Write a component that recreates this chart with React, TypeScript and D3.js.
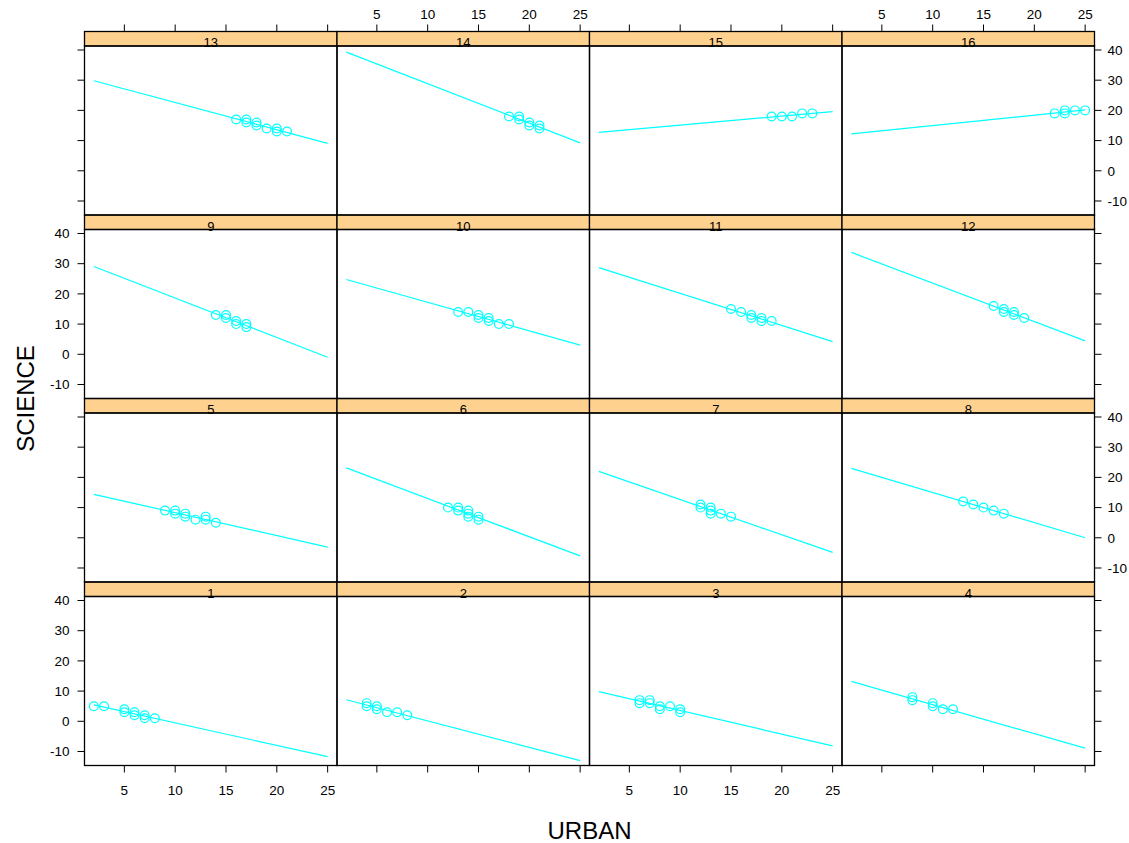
import React from 'react';
import * as d3 from 'd3';

// panel labels 1..16 (lattice order: bottom-left first, left to right, bottom to top)
const panelLabels = ['1', '2', '3', '4', '5', '6', '7', '8', '9', '10', '11', '12', '13', '14', '15', '16'];

// URBAN values for each panel
const urbanByPanel = [
  [2, 3, 5, 5, 6, 6, 7, 7, 8],
  [4, 4, 5, 5, 6, 7, 8],
  [6, 6, 7, 7, 8, 8, 9, 10, 10],
  [8, 8, 10, 10, 11, 12],
  [9, 10, 10, 11, 11, 12, 13, 13, 14],
  [12, 13, 13, 14, 14, 14, 15, 15],
  [12, 12, 13, 13, 13, 14, 15],
  [13, 14, 15, 16, 17],
  [14, 15, 15, 16, 16, 17, 17],
  [13, 14, 15, 15, 16, 16, 17, 18],
  [15, 16, 17, 17, 18, 18, 19],
  [16, 17, 17, 18, 18, 19],
  [16, 17, 17, 18, 18, 19, 20, 20, 21],
  [18, 19, 19, 20, 20, 21, 21],
  [19, 20, 21, 22, 23],
  [22, 23, 23, 24, 25],
];

// SCIENCE values for each panel
const scienceByPanel = [
  [5, 5, 4, 3, 3, 2, 2, 1, 1],
  [6, 5, 5, 4, 3, 3, 2],
  [7, 6, 7, 6, 5, 4, 5, 4, 3],
  [8, 7, 6, 5, 4, 4],
  [9, 9, 8, 8, 7, 6, 7, 6, 5],
  [10, 10, 9, 9, 8, 7, 7, 6],
  [11, 10, 10, 9, 8, 8, 7],
  [12, 11, 10, 9, 8],
  [13, 13, 12, 11, 10, 10, 9],
  [14, 14, 13, 12, 12, 11, 10, 10],
  [15, 14, 13, 12, 12, 11, 11],
  [16, 15, 14, 14, 13, 12],
  [17, 17, 16, 16, 15, 14, 14, 13, 13],
  [18, 18, 17, 16, 15, 15, 14],
  [18, 18, 18, 19, 19],
  [19, 20, 19, 20, 20],
];

const xTicks = [5, 10, 15, 20, 25];
const yTicks = [-10, 0, 10, 20, 30, 40];
const xLimits = [1.08, 25.92];
const yLimits = [-14.64, 41.32];

const W = 1129;
const H = 843;
const left = 84.5;
const right = 1094.5;
const top = 31.5;
const bottom = 765.5;
const nCol = 4;
const nRow = 4;
const colW = (right - left) / nCol;
const rowH = (bottom - top) / nRow;
const stripH = 14.5;
const tickLen = 7;

const STRIP = '#ffd18f';
const CYAN = '#00ffff';
const FONT = '"Liberation Sans", Arial, Helvetica, sans-serif';

// least squares fit, like lattice's type = "r"
function fit(xs, ys) {
  const mx = d3.mean(xs);
  const my = d3.mean(ys);
  const sxy = d3.sum(xs, (x, i) => (x - mx) * (ys[i] - my));
  const sxx = d3.sum(xs, x => (x - mx) * (x - mx));
  const b = sxy / sxx;
  return { a: my - b * mx, b };
}

export default function App() {
  const xRange = d3.extent(urbanByPanel.flat());

  const panels = panelLabels.map((label, k) => {
    const col = k % nCol;
    const rowFromTop = nRow - 1 - Math.floor(k / nCol);
    const x0 = left + col * colW;
    const stripTop = top + rowFromTop * rowH;
    const y0 = stripTop + stripH;
    const y1 = stripTop + rowH;
    const xScale = d3.scaleLinear().domain(xLimits).range([x0, x0 + colW]);
    const yScale = d3.scaleLinear().domain(yLimits).range([y1, y0]);
    const xs = urbanByPanel[k];
    const ys = scienceByPanel[k];
    const { a, b } = fit(xs, ys);
    const line = d3.line()
      .x(d => xScale(d))
      .y(d => yScale(a + b * d));
    return { label, k, col, rowFromTop, x0, stripTop, y0, y1, xScale, yScale, xs, ys, path: line(xRange) };
  });

  return (
    <div style={{ position: 'absolute', left: 0, top: 0 }}>
      <svg width={W} height={H} style={{ display: 'block', fontFamily: FONT }}>
        <rect x={0} y={0} width={W} height={H} fill="#fff" />
        {panels.map(p => (
          <g key={p.k}>
            <rect x={p.x0} y={p.stripTop} width={colW} height={stripH} fill={STRIP} />
            <text x={p.x0 + colW / 2} y={p.y0 + 1} fontSize={13} textAnchor="middle" fill="#000">
              {p.label}
            </text>
            <path d={p.path} fill="none" stroke={CYAN} strokeWidth={1.2} />
            {p.xs.map((x, i) => (
              <circle key={i} cx={p.xScale(x)} cy={p.yScale(p.ys[i])} r={4.4}
                fill="none" stroke={CYAN} strokeWidth={1.2} />
            ))}
            <rect x={p.x0} y={p.stripTop} width={colW} height={stripH} fill="none" stroke="#000" strokeWidth={1.3} />
            <rect x={p.x0} y={p.y0} width={colW} height={p.y1 - p.y0} fill="none" stroke="#000" strokeWidth={1.3} />

            {/* top axis */}
            {p.rowFromTop === 0 && xTicks.map(t => (
              <g key={'t' + t}>
                <line x1={p.xScale(t)} x2={p.xScale(t)} y1={p.stripTop} y2={p.stripTop - tickLen} stroke="#000" />
                {p.col % 2 === 1 && (
                  <text x={p.xScale(t)} y={18.5} fontSize={13.5} textAnchor="middle" fill="#000">{t}</text>
                )}
              </g>
            ))}
            {/* bottom axis */}
            {p.rowFromTop === nRow - 1 && xTicks.map(t => (
              <g key={'b' + t}>
                <line x1={p.xScale(t)} x2={p.xScale(t)} y1={p.y1} y2={p.y1 + tickLen} stroke="#000" />
                {p.col % 2 === 0 && (
                  <text x={p.xScale(t)} y={p.y1 + 29} fontSize={13.5} textAnchor="middle" fill="#000">{t}</text>
                )}
              </g>
            ))}
            {/* left axis */}
            {p.col === 0 && yTicks.map(t => (
              <g key={'l' + t}>
                <line x1={p.x0} x2={p.x0 - tickLen} y1={p.yScale(t)} y2={p.yScale(t)} stroke="#000" />
                {p.rowFromTop % 2 === 1 && (
                  <text x={p.x0 - 15} y={p.yScale(t) + 4.8} fontSize={13.5} textAnchor="end" fill="#000">{t}</text>
                )}
              </g>
            ))}
            {/* right axis */}
            {p.col === nCol - 1 && yTicks.map(t => (
              <g key={'r' + t}>
                <line x1={p.x0 + colW} x2={p.x0 + colW + tickLen} y1={p.yScale(t)} y2={p.yScale(t)} stroke="#000" />
                {p.rowFromTop % 2 === 0 && (
                  <text x={p.x0 + colW + 13} y={p.yScale(t) + 4.8} fontSize={13.5} textAnchor="start" fill="#000">{t}</text>
                )}
              </g>
            ))}
          </g>
        ))}
        <text x={(left + right) / 2} y={839} fontSize={24} textAnchor="middle" fill="#000">URBAN</text>
        <text transform={`translate(33.5, ${(top + bottom) / 2}) rotate(-90)`} fontSize={24} textAnchor="middle" fill="#000">
          SCIENCE
        </text>
      </svg>
    </div>
  );
}
